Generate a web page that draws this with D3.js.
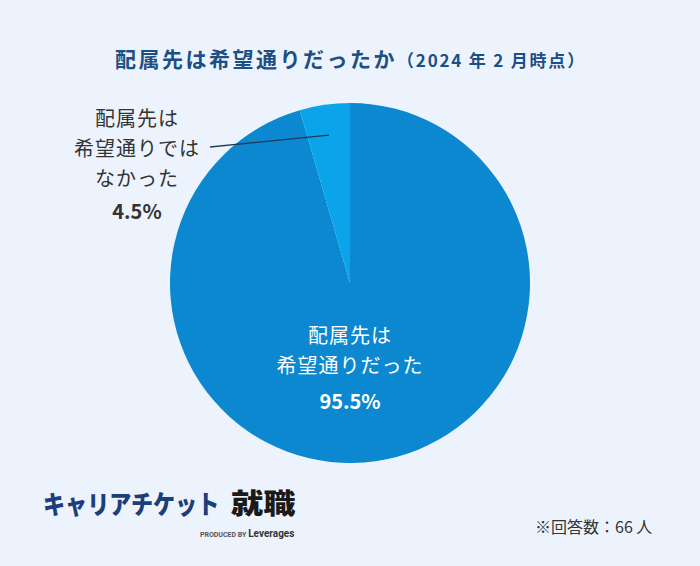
<!DOCTYPE html>
<html><head><meta charset="utf-8">
<script src="https://cdn.jsdelivr.net/npm/d3@7"></script>
<style>
html,body{margin:0;padding:0;background:#edf3fc;}
svg{display:block;font-family:"Noto Sans CJK JP","Noto Sans",sans-serif;}
</style></head>
<body>
<svg id="c" width="700" height="566"></svg>
<script>
const categories = ["配属先は希望通りだった", "配属先は希望通りではなかった"];
const values = [95.5, 4.5];
const labelLines = [["配属先は", "希望通りだった"], ["配属先は", "希望通りでは", "なかった"]];
const colors = ["#0b88cf", "#0aa4ea"];
const titleMain = "配属先は希望通りだったか";
const titleSub = "（2024 年 2 月時点）";
const footnote = "※回答数：66 人";

const svg = d3.select("#c");
svg.append("rect").attr("width",700).attr("height",566).attr("fill","#edf3fc");

// title
const t = svg.append("text").attr("x",115).attr("y",67).attr("fill","#1b4f85").attr("font-weight","bold");
t.append("tspan").attr("font-size",21).attr("letter-spacing",2.5).text(titleMain);
t.append("tspan").attr("font-size",17).attr("letter-spacing",1.8).text(titleSub);

const cx = 350, cy = 283, r = 180;
const pie = d3.pie().sort(null).value(d=>d.v).startAngle(0).endAngle(2*Math.PI);
const data = categories.map((c,i)=>({c, v:values[i], i}));
const arcs = pie(data);
const arc = d3.arc().innerRadius(0).outerRadius(r);
const g = svg.append("g").attr("transform",`translate(${cx},${cy})`);
g.selectAll("path").data(arcs).join("path")
  .attr("d",arc).attr("fill",d=>colors[d.data.i]);

// main label inside
const fmt = v => v.toFixed(1) + "%";
const mainLab = svg.append("text").attr("text-anchor","middle").attr("fill","#ffffff").attr("font-size",20).attr("letter-spacing",1);
mainLab.append("tspan").attr("x",350).attr("y",343).text(labelLines[0][0]);
mainLab.append("tspan").attr("x",350).attr("y",373).text(labelLines[0][1]);
mainLab.append("tspan").attr("x",350).attr("y",409).attr("font-weight","bold").attr("letter-spacing",0).text(fmt(values[0]));

// small slice label outside
const a1 = arcs[1];
const mid = (a1.startAngle + a1.endAngle)/2;
const p1 = [cx + Math.sin(mid)*r*0.83, cy - Math.cos(mid)*r*0.83];
svg.append("line").attr("x1",p1[0]).attr("y1",p1[1]).attr("x2",210).attr("y2",147)
  .attr("stroke","#1f3a55").attr("stroke-width",1.3);
const sl = svg.append("text").attr("text-anchor","middle").attr("fill","#333333").attr("font-size",20).attr("letter-spacing",1);
sl.append("tspan").attr("x",137).attr("y",126).text(labelLines[1][0]);
sl.append("tspan").attr("x",137).attr("y",156).text(labelLines[1][1]);
sl.append("tspan").attr("x",137).attr("y",186).text(labelLines[1][2]);
sl.append("tspan").attr("x",137).attr("y",219).attr("font-weight","bold").attr("letter-spacing",0).text(fmt(values[1]));

// logo
svg.append("text").attr("transform","translate(43,514) scale(0.85,1)").attr("font-size",26).attr("font-weight","900")
  .attr("fill","#1c3f7a").text("キャリアチケット");
svg.append("text").attr("transform","translate(231,514) scale(1.15,1)").attr("font-size",28).attr("font-weight","900")
  .attr("fill","#1a1a1a").text("就職");
const pb = svg.append("text").attr("x",200).attr("y",537).attr("font-family","Roboto, sans-serif").attr("fill","#333");
pb.append("tspan").attr("font-size",7).attr("font-weight","bold").attr("fill","#555").text("PRODUCED BY ");
pb.append("tspan").attr("font-size",10).attr("font-weight","bold").text("Leverages");

// footnote
svg.append("text").attr("x",535).attr("y",533).attr("font-size",16).attr("fill","#333").text(footnote);
</script>
</body></html>
